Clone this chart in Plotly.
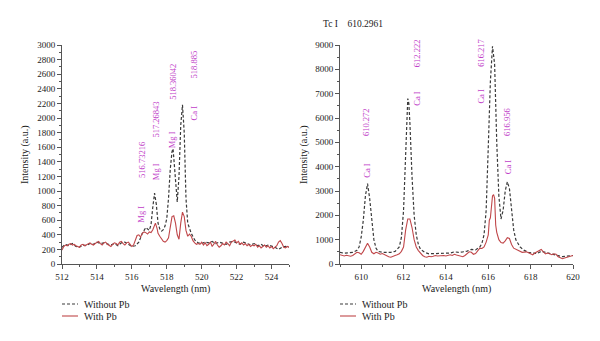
import plotly.graph_objects as go

# ---------------- Left panel (Mg / Ca lines, 512-525 nm) ----------------
left_wl_nopb = [512.0, 512.2, 512.4, 512.6, 512.8, 513.0, 513.2, 513.4, 513.6, 513.8,
                514.0, 514.2, 514.4, 514.6, 514.8, 515.0, 515.2, 515.4, 515.6, 515.8,
                516.0, 516.2, 516.4, 516.6, 516.8, 517.0, 517.1, 517.2, 517.3, 517.4,
                517.5, 517.6, 517.7, 517.8, 517.9, 518.0, 518.1, 518.2, 518.3, 518.36,
                518.45, 518.55, 518.6, 518.7, 518.8, 518.9, 519.0, 519.1, 519.2, 519.4,
                519.6, 519.8, 520.0, 520.2, 520.4, 520.6, 520.8, 521.0, 521.2, 521.4,
                521.6, 521.8, 522.0, 522.2, 522.4, 522.6, 522.8, 523.0, 523.2, 523.4,
                523.6, 523.8, 524.0, 524.2, 524.4, 524.6, 524.8, 525.0]
left_int_nopb = [230, 270, 250, 280, 240, 230, 260, 250, 280, 270,
                 300, 280, 290, 270, 260, 280, 250, 290, 300, 270,
                 240, 250, 300, 420, 500, 460, 540, 780, 970, 820,
                 560, 480, 450, 470, 520, 620, 900, 1300, 1540, 1580,
                 1300, 900, 850, 1200, 1900, 2180, 1800, 900, 560, 420,
                 330, 290, 280, 300, 290, 310, 280, 300, 290, 270,
                 300, 310, 290, 270, 300, 280, 260, 280, 250, 270,
                 240, 260, 250, 230, 200, 230, 240, 230]

left_wl_pb = [512.0, 512.1, 512.2, 512.3, 512.4, 512.5, 512.6, 512.7, 512.8, 512.9,
              513.0, 513.1, 513.2, 513.3, 513.4, 513.5, 513.6, 513.7, 513.8, 513.9,
              514.0, 514.1, 514.2, 514.3, 514.4, 514.5, 514.6, 514.7, 514.8, 514.9,
              515.0, 515.1, 515.2, 515.3, 515.4, 515.5, 515.6, 515.7, 515.8, 515.9,
              516.0, 516.1, 516.2, 516.3, 516.4, 516.5, 516.6, 516.7, 516.8, 516.9,
              517.0, 517.1, 517.2, 517.3, 517.35, 517.45, 517.5, 517.6, 517.7, 517.8,
              517.9, 518.0, 518.1, 518.2, 518.3, 518.4, 518.5, 518.6, 518.7, 518.8,
              518.9, 519.0, 519.1, 519.2, 519.3, 519.4, 519.5, 519.6, 519.7, 519.8,
              519.9, 520.0, 520.1, 520.2, 520.3, 520.4, 520.5, 520.6, 520.7, 520.8,
              520.9, 521.0, 521.1, 521.2, 521.3, 521.4, 521.5, 521.6, 521.7, 521.8,
              521.9, 522.0, 522.1, 522.2, 522.3, 522.4, 522.5, 522.6, 522.7, 522.8,
              522.9, 523.0, 523.1, 523.2, 523.3, 523.4, 523.5, 523.6, 523.7, 523.8,
              523.9, 524.0, 524.1, 524.2, 524.3, 524.4, 524.5, 524.6, 524.7, 524.8,
              524.9, 525.0]
left_int_pb = [190, 240, 260, 250, 270, 280, 260, 270, 250, 240,
               230, 260, 270, 250, 260, 280, 290, 270, 260, 280,
               300, 310, 280, 260, 290, 300, 270, 250, 240, 270,
               290, 280, 260, 300, 310, 280, 260, 290, 300, 270,
               240, 260, 320, 390, 400, 370, 420, 440, 430, 410,
               440, 430, 470, 540, 560, 480, 420, 380, 340, 310,
               300, 320, 360, 480, 650, 660, 560, 400, 340, 560,
               710, 650, 460, 380, 410, 380, 320, 290, 270, 280,
               270, 300, 260, 290, 250, 270, 300, 240, 280, 310,
               260, 230, 250, 280, 260, 300, 280, 250, 300, 320,
               330, 290, 310, 270, 290, 260, 280, 250, 270, 240,
               260, 250, 270, 230, 250, 220, 240, 260, 230, 250,
               220, 240, 210, 230, 250, 300, 320, 280, 230, 220,
               240, 230]

left_label_num = ["516.73216", "517.26843", "518.36042", "518.885"]
left_label_elem = ["Mg I", "Mg I", "Mg I", "Ca I"]

# ---------------- Right panel (Ca lines, 609-620 nm) ----------------
right_wl_nopb = [609.0, 609.2, 609.4, 609.6, 609.8, 609.9, 610.0, 610.1, 610.2, 610.3,
                 610.4, 610.5, 610.6, 610.7, 610.8, 611.0, 611.2, 611.4, 611.6, 611.8,
                 611.9, 612.0, 612.1, 612.2, 612.25, 612.3, 612.4, 612.5, 612.6, 612.7,
                 612.8, 613.0, 613.2, 613.4, 613.6, 613.8, 614.0, 614.2, 614.4, 614.6,
                 614.8, 615.0, 615.2, 615.4, 615.6, 615.7, 615.8, 615.9, 616.0, 616.1,
                 616.2, 616.3, 616.4, 616.5, 616.6, 616.7, 616.8, 616.9, 617.0, 617.1,
                 617.2, 617.3, 617.5, 617.7, 617.9, 618.1, 618.3, 618.5, 618.7, 618.9,
                 619.1, 619.3, 619.5, 619.7, 620.0]
right_int_nopb = [480, 440, 460, 480, 560, 700, 1100, 1800, 2800, 3300,
                  2700, 1700, 1000, 650, 520, 480, 470, 480, 520, 700,
                  1100, 2200, 4500, 6800, 6600, 5800, 3600, 2000, 1200, 800,
                  600, 480, 420, 430, 450, 430, 460, 450, 500, 480,
                  500, 530, 600, 580, 700, 850, 1200, 2200, 4800, 7500,
                  8950, 8200, 5000, 2800, 1850, 2200, 3000, 3380, 3100, 2200,
                  1400, 1000, 700, 560, 480, 450, 430, 520, 480, 420,
                  380, 330, 300, 320, 350]

right_wl_pb = [609.0, 609.1, 609.2, 609.3, 609.4, 609.5, 609.6, 609.7, 609.8, 609.9,
               610.0, 610.1, 610.2, 610.3, 610.4, 610.5, 610.6, 610.7, 610.8, 610.9,
               611.0, 611.1, 611.2, 611.3, 611.4, 611.5, 611.6, 611.7, 611.8, 611.9,
               612.0, 612.1, 612.2, 612.3, 612.4, 612.5, 612.6, 612.7, 612.8, 612.9,
               613.0, 613.1, 613.2, 613.3, 613.4, 613.5, 613.6, 613.7, 613.8, 613.9,
               614.0, 614.1, 614.2, 614.3, 614.4, 614.5, 614.6, 614.7, 614.8, 614.9,
               615.0, 615.1, 615.2, 615.3, 615.4, 615.5, 615.6, 615.7, 615.8, 615.9,
               616.0, 616.05, 616.1, 616.2, 616.25, 616.3, 616.35, 616.4, 616.5, 616.6,
               616.7, 616.8, 616.9, 617.0, 617.1, 617.2, 617.3, 617.4, 617.5, 617.6,
               617.8, 617.9, 618.0, 618.1, 618.2, 618.3, 618.4, 618.5, 618.6, 618.7,
               618.8, 618.9, 619.0, 619.1, 619.2, 619.3, 619.4, 619.5, 619.6, 619.7,
               619.8, 619.9, 620.0]
right_int_pb = [380, 350, 330, 360, 340, 320, 350, 400, 480, 460,
                400, 520, 700, 850, 700, 480, 420, 480, 450, 400,
                430, 380, 320, 300, 280, 300, 350, 380, 420, 520,
                700, 1400, 1850, 1850, 1500, 1000, 700, 550, 450, 350,
                300, 280, 320, 300, 320, 350, 330, 340, 320, 350,
                330, 360, 380, 350, 400, 370, 350, 330, 300, 350,
                420, 500, 480, 400, 430, 550, 650, 640, 700, 900,
                1200, 1800, 1900, 2800, 2850, 2700, 1600, 1300, 1000, 880,
                860, 950, 1080, 1050, 800, 650, 600, 560, 520, 480,
                500, 450, 400, 380, 450, 500, 550, 600, 500, 420,
                450, 400, 380, 420, 400, 300, 260, 220, 250, 280,
                300, 320, 350]

right_label_num = ["610.272", "612.222", "616.217", "616.956"]
right_label_elem = ["Ca I", "Ca I", "Ca I", "Ca I"]

# label placement (layout only: x in axis units, y in axis units)
left_lab_x = [516.54, 517.39, 518.32, 519.53]
left_num_y = [1430, 1980, 2500, 2740]
left_elem_y = [680, 1260, 1700, 2070]
right_lab_x = [610.26, 612.62, 615.68, 616.91]
right_num_y = [5820, 8650, 8700, 5820]
right_elem_y = [3860, 6820, 6900, 4000]

# ---------------- styling ----------------
FONT = "Liberation Serif"
DASH_COLOR = "#3a3a3a"
RED = "#c0474a"
MAGENTA = "#c03cc8"
AXIS = "#555555"

fig = go.Figure()

fig.add_trace(go.Scatter(x=left_wl_nopb, y=left_int_nopb, mode="lines", name="Without Pb",
                         line=dict(color=DASH_COLOR, width=1.2, dash="3px,2px"),
                         xaxis="x", yaxis="y", showlegend=False))
fig.add_trace(go.Scatter(x=left_wl_pb, y=left_int_pb, mode="lines", name="With Pb",
                         line=dict(color=RED, width=1.1),
                         xaxis="x", yaxis="y", showlegend=False))
fig.add_trace(go.Scatter(x=right_wl_nopb, y=right_int_nopb, mode="lines", name="Without Pb",
                         line=dict(color=DASH_COLOR, width=1.2, dash="3px,2px"),
                         xaxis="x2", yaxis="y2", showlegend=False))
fig.add_trace(go.Scatter(x=right_wl_pb, y=right_int_pb, mode="lines", name="With Pb",
                         line=dict(color=RED, width=1.1),
                         xaxis="x2", yaxis="y2", showlegend=False))

tickfont = dict(family=FONT, size=9, color="#222")
common_axis = dict(showline=True, linecolor=AXIS, linewidth=1, ticks="outside",
                   ticklen=4, tickcolor=AXIS, showgrid=False, zeroline=False,
                   tickfont=tickfont, mirror=False, automargin=False)

y_dom = [1 - 264 / 341, 1 - 45 / 341]
fig.update_layout(
    width=600, height=341, autosize=False, showlegend=False,
    margin=dict(l=0, r=0, t=0, b=0, pad=0, autoexpand=False),
    paper_bgcolor="white", plot_bgcolor="white",
    xaxis=dict(domain=[62 / 600, 289 / 600], range=[512, 525], dtick=2, tick0=512,
               minor=dict(dtick=1, ticks="outside", ticklen=2, tickcolor=AXIS),
               anchor="y", **common_axis),
    yaxis=dict(domain=y_dom, range=[0, 3000], dtick=200,
               minor=dict(dtick=100, ticks="outside", ticklen=2, tickcolor=AXIS),
               anchor="x", **common_axis),
    xaxis2=dict(domain=[340 / 600, 573 / 600], range=[609, 620], dtick=2, tick0=610,
                minor=dict(dtick=1, ticks="outside", ticklen=2, tickcolor=AXIS),
                anchor="y2", **common_axis),
    yaxis2=dict(domain=y_dom, range=[0, 9000], dtick=1000,
                minor=dict(dtick=500, ticks="outside", ticklen=2, tickcolor=AXIS),
                anchor="x2", **common_axis),
)

ann = []
lab_font = dict(family=FONT, size=8.5, color=MAGENTA)
for xv, t, yv in zip(left_lab_x, left_label_num, left_num_y):
    ann.append(dict(x=xv, y=yv, xref="x", yref="y", text=t, textangle=-90,
                    showarrow=False, font=lab_font, xanchor="center", yanchor="middle"))
for xv, t, yv in zip(left_lab_x, left_label_elem, left_elem_y):
    ann.append(dict(x=xv, y=yv, xref="x", yref="y", text=t, textangle=-90,
                    showarrow=False, font=lab_font, xanchor="center", yanchor="middle"))
for xv, t, yv in zip(right_lab_x, right_label_num, right_num_y):
    ann.append(dict(x=xv, y=yv, xref="x2", yref="y2", text=t, textangle=-90,
                    showarrow=False, font=lab_font, xanchor="center", yanchor="middle"))
for xv, t, yv in zip(right_lab_x, right_label_elem, right_elem_y):
    ann.append(dict(x=xv, y=yv, xref="x2", yref="y2", text=t, textangle=-90,
                    showarrow=False, font=lab_font, xanchor="center", yanchor="middle"))

title_font = dict(family=FONT, size=10, color="#222")
# axis titles
for xc in (25, 304):
    ann.append(dict(x=xc / 600, y=1 - 155 / 341, xref="paper", yref="paper",
                    text="Intensity (a.u.)", textangle=-90, showarrow=False,
                    xanchor="center", yanchor="middle", font=title_font))
for xc in (175, 456):
    ann.append(dict(x=xc / 600, y=1 - 289 / 341, xref="paper", yref="paper",
                    text="Wavelength (nm)", showarrow=False,
                    xanchor="center", yanchor="middle", font=title_font))
# top note
ann.append(dict(x=321 / 600, y=1 - 24 / 341, xref="paper", yref="paper",
                text="Tc I&nbsp;&nbsp;&nbsp;&nbsp;610.2961", showarrow=False,
                xanchor="left", yanchor="middle",
                font=dict(family=FONT, size=9.5, color="#222")))

# legends (drawn per panel)
shapes = []
for x0 in (62, 340):
    shapes.append(dict(type="line", xref="paper", yref="paper",
                       x0=x0 / 600, x1=(x0 + 16) / 600, y0=1 - 304 / 341, y1=1 - 304 / 341,
                       line=dict(color=DASH_COLOR, width=1.2, dash="3px,2px")))
    shapes.append(dict(type="line", xref="paper", yref="paper",
                       x0=x0 / 600, x1=(x0 + 16) / 600, y0=1 - 316 / 341, y1=1 - 316 / 341,
                       line=dict(color=RED, width=1.1)))
    ann.append(dict(x=(x0 + 20) / 600, y=1 - 304 / 341, xref="paper", yref="paper",
                    text="Without Pb", showarrow=False, xanchor="left", yanchor="middle",
                    font=dict(family=FONT, size=10, color="#222")))
    ann.append(dict(x=(x0 + 20) / 600, y=1 - 316 / 341, xref="paper", yref="paper",
                    text="With Pb", showarrow=False, xanchor="left", yanchor="middle",
                    font=dict(family=FONT, size=10, color="#222")))

fig.update_layout(annotations=ann, shapes=shapes)
fig.write_html("out.html", config={"displayModeBar": False},
               post_script="document.body.style.margin='0px';document.body.style.overflow='hidden';")
